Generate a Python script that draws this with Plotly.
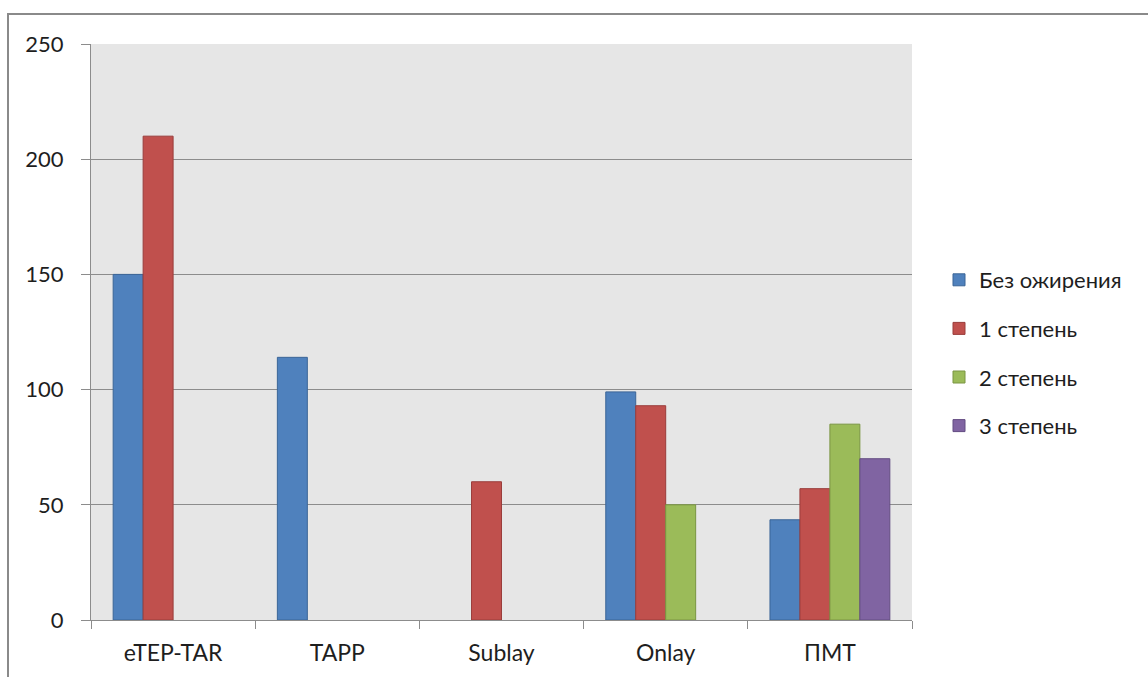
import plotly.graph_objects as go

categories = ["eTEP-TAR", "TAPP", "Sublay", "Onlay", "ПМТ"]
series_names = ["Без ожирения", "1 степень", "2 степень", "3 степень"]
# None marks a group with no bar for that series
no_obesity = [150, 114, None, 99, 43.5]
degree_1 = [210, None, 60, 93, 57]
degree_2 = [None, None, None, 50, 85]
degree_3 = [None, None, None, None, 70]
y_ticks = [0, 50, 100, 150, 200, 250]

fills = ["#4F81BD", "#C0504D", "#9BBB59", "#8064A2"]
edges = ["#3B6597", "#9A3D3B", "#7A9542", "#634C82"]

FONT = "Lato, 'Open Sans', sans-serif"
TXT = "#1e1e1e"

fig = go.Figure()
for i, (name, vals) in enumerate(zip(series_names, [no_obesity, degree_1, degree_2, degree_3])):
    fig.add_trace(go.Bar(
        x=categories, y=vals, name=name,
        marker=dict(color=fills[i], line=dict(color=edges[i], width=1)),
        legendgroup=f"g{i}",
    ))

W, H = 1148, 677
L, R, T, B = 91, 912, 44, 620
pw, ph = R - L, B - T

def px(x):
    return (x - L) / pw

def py(y):
    return (B - y) / ph

fig.update_layout(
    width=W, height=H,
    margin=dict(l=L, r=W - R, t=T, b=H - B, pad=0),
    paper_bgcolor="white",
    plot_bgcolor="#E6E6E6",
    barmode="group",
    bargap=0.27,
    bargroupgap=0,
    font=dict(family=FONT, size=20, color=TXT),
    legend=dict(
        x=px(939), y=py(259), xanchor="left", yanchor="top",
        font=dict(family=FONT, size=22, color=TXT),
        tracegroupgap=17,
        itemwidth=30,
        bgcolor="rgba(0,0,0,0)",
    ),
    xaxis=dict(
        type="category",
        automargin=False,
        tickson="boundaries",
        ticks="outside", ticklen=8, tickcolor="#8c8c8c", tickwidth=1,
        showline=True, linecolor="#8c8c8c", linewidth=1,
        showgrid=False,
        ticklabelstandoff=12,
        tickfont=dict(family=FONT, size=23, color=TXT),
    ),
    yaxis=dict(
        range=[0, 250],
        automargin=False,
        tickvals=y_ticks,
        ticks="outside", ticklen=9, tickcolor="#8c8c8c", tickwidth=1,
        showline=True, linecolor="#8c8c8c", linewidth=1,
        showgrid=True, gridcolor="#8c8c8c", gridwidth=1,
        zeroline=False,
        ticklabelstandoff=13,
        tickfont=dict(family=FONT, size=22, color=TXT),
    ),
    shapes=[
        dict(type="rect", xref="paper", yref="paper",
             x0=px(8), y0=-0.3, x1=1.6, y1=py(14),
             line=dict(color="#8a8a8a", width=2), fillcolor="rgba(0,0,0,0)",
             layer="below"),
    ],
)

fig.write_html("out.html")
